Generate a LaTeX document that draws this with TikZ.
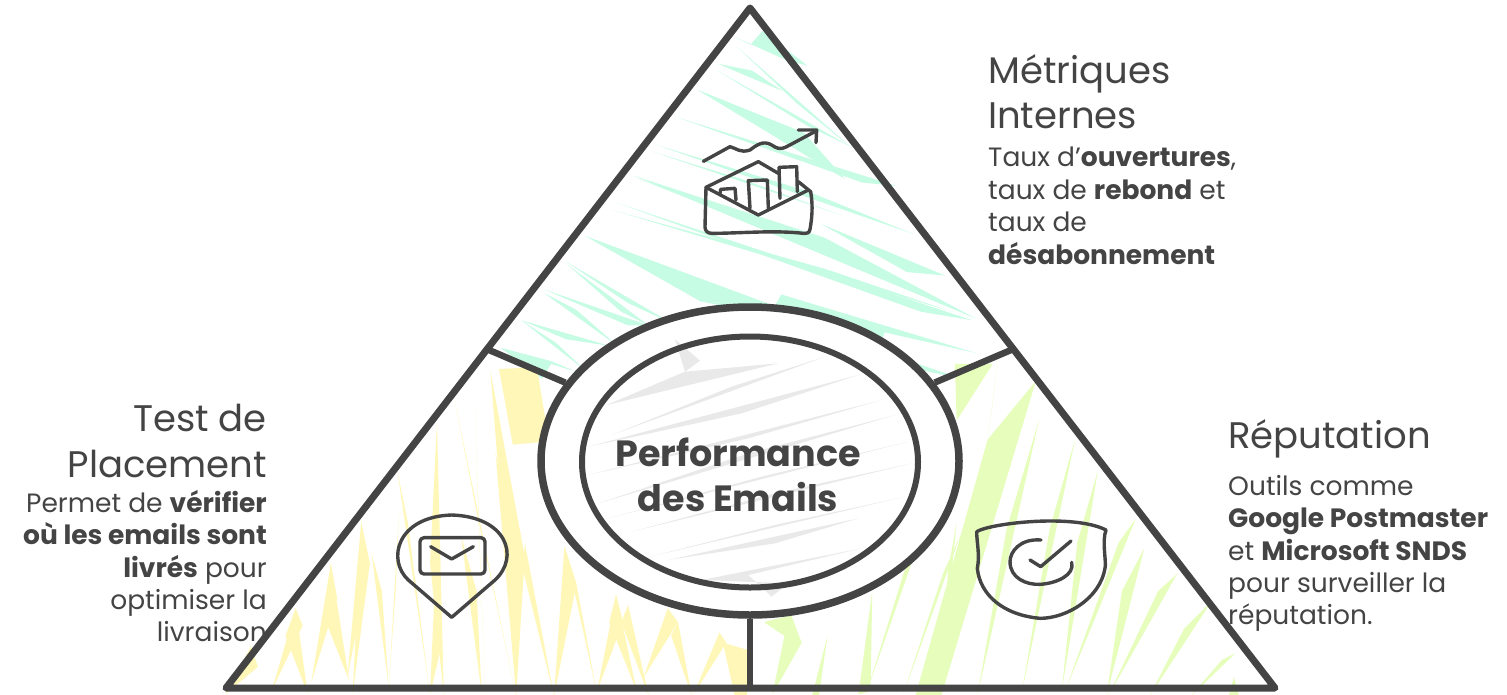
\documentclass[tikz,border=0pt]{standalone}
\usepackage{fontspec}
\setmainfont{Poppins}
\usetikzlibrary{shapes.geometric,calc}
\definecolor{ink}{HTML}{444444}
\definecolor{mintfill}{HTML}{C6FBE4}
\definecolor{lemonfill}{HTML}{FFF7B8}
\definecolor{limefill}{HTML}{E6FDBB}
\definecolor{greyfill}{HTML}{E9E9E9}
\tikzset{
  outline/.style={draw=ink,line width=7pt,line join=round,line cap=round},
  divider/.style={draw=ink,line width=6.5pt},
  iconline/.style={draw=ink,line width=3.4pt,line join=round,line cap=round},
  headtxt/.style={text=ink,inner sep=0pt,align=left,font=\fontsize{37}{45.5}\selectfont},
  bodytxt/.style={text=ink,inner sep=0pt,align=left,font=\fontsize{26.5}{32.4}\selectfont},
  hatchzone/.style={shift={(#1)},scale=0.3444}
}
\begin{document}
\begin{tikzpicture}[x=1pt,y=-1pt]
  \useasboundingbox (0,0) rectangle (1507,694);
  \coordinate (apex) at (750,8);
  \coordinate (leftfoot) at (226,688);
  \coordinate (rightfoot) at (1275,688);
  \coordinate (leftcut) at (489,350);
  \coordinate (rightcut) at (1011,350);
  \coordinate (basecut) at (750,688);

  \begin{scope}[hatchzone={480,0}]
    \fill[mintfill] (820,90) -- (785,130) -- (735,105) -- (890,175) -- (950,190) -- cycle;
    \fill[mintfill] (640,875) -- (855,890) -- (875,855) -- (1440,1025) -- (1175,965) -- (1145,1045) -- (1400,1100) -- (870,920) -- cycle;
    \foreach \ax/\ay/\bx/\by/\cx/\cy in {
      745/135/1080/430/920/300, 690/185/880/265/790/205, 690/205/1075/425/950/365,
      630/260/1060/520/940/385, 680/285/1020/490/860/375, 570/340/1210/540/1110/530,
      510/420/1260/680/950/555, 500/440/1050/625/760/520, 445/510/1440/925/1000/690,
      460/520/1130/760/800/650, 400/590/1430/930/1280/905, 385/610/1370/905/1000/780,
      305/685/860/890/640/875, 250/760/560/940/430/880, 250/765/490/945/410/905,
      185/840/490/945/430/945, 185/850/400/1005/280/900, 120/930/305/1075/220/995,
      120/930/380/1005/250/985, 990/650/1350/800/1240/790, 60/1010/280/1080/210/1050,
      60/1010/180/1100/210/1050}
      \fill[mintfill] (\ax,\ay) -- (\bx,\by) -- (\cx,\cy) -- cycle;
  \end{scope}

  \begin{scope}[hatchzone={220,350}]
    \fill[lemonfill] (810,55) -- (920,50) -- (955,265) -- (850,275) -- cycle;
    \fill[lemonfill] (1460,850) -- (1530,870) -- (1530,1005) -- (1495,1005) -- cycle;
    \foreach \ax/\ay/\bx/\by/\cx/\cy in {
      630/210/650/1005/610/620, 515/350/610/1000/545/500, 410/500/370/950/435/620,
      410/500/385/1000/435/620, 322/620/265/965/340/720, 322/620/375/960/300/770,
      220/750/150/990/240/800, 220/750/255/1000/190/830, 90/860/15/1000/110/920,
      680/140/860/1005/745/470, 740/170/770/1005/750/470, 785/60/860/1005/885/600,
      1000/570/970/1005/1035/680, 1000/570/1095/1000/1035/680, 885/560/970/1005/880/640,
      1150/710/1095/990/1170/790, 1150/710/1210/990/1130/790, 1185/740/1245/1005/1165/790,
      1330/790/1370/1005/1310/830, 1300/750/1230/950/1330/790, 1450/820/1375/1000/1470/850,
      440/590/490/980/470/700, 625/650/610/1000/645/850, 700/540/760/1000/745/700,
      800/300/860/1005/840/500, 520/470/490/980/510/700}
      \fill[lemonfill] (\ax,\ay) -- (\bx,\by) -- (\cx,\cy) -- cycle;
  \end{scope}

  \begin{scope}[hatchzone={750,350}]
    \fill[limefill] (830,90) -- (690,260) -- (480,1005) -- (555,1005) -- cycle;
    \fill[limefill] (595,40) -- (705,40) -- (600,205) -- cycle;
    \fill[limefill] (120,770) -- (40,790) -- (100,830) -- (65,1000) -- (150,850) -- cycle;
    \foreach \ax/\ay/\bx/\by/\cx/\cy in {
      840/200/660/1005/745/520, 945/255/790/990/870/520, 1010/350/905/990/950/560,
      1120/490/915/990/1070/560, 1145/575/1035/1005/1080/700, 1240/650/1040/1005/1185/700,
      1340/730/1160/1005/1260/810, 1410/880/1280/1005/1370/900, 1405/950/1390/1005/1420/1005,
      610/540/445/1000/560/650, 500/530/340/990/455/620, 355/700/315/1000/350/990,
      225/830/180/1005/200/1005, 720/30/690/260/705/150, 600/500/550/1000/575/640}
      \fill[limefill] (\ax,\ay) -- (\bx,\by) -- (\cx,\cy) -- cycle;
  \end{scope}

  \node[ellipse,draw=ink,line width=7.5pt,fill=white,inner sep=0pt,
    minimum width=418pt,minimum height=308pt] (ring) at (750,461) {};

  \begin{scope}[shift={(575,330)},scale=1/3]
    \fill[greyfill] (300,28) -- (375,92) -- (330,125) -- (610,100) -- (95,225) -- (330,125) -- cycle;
    \fill[greyfill] (860,655) -- (520,735) -- (590,800) -- (640,760) -- (380,750) -- cycle;
    \foreach \ax/\ay/\bx/\by/\cx/\cy in {
      750/80/110/315/470/170, 850/135/40/350/500/250, 920/210/40/435/520/325,
      960/255/70/520/520/370, 1000/335/100/565/560/440, 1010/400/170/605/600/490,
      990/500/225/680/600/585, 850/565/280/690/600/640}
      \fill[greyfill] (\ax,\ay) -- (\bx,\by) -- (\cx,\cy) -- cycle;
  \end{scope}

  \node[ellipse,draw=ink,line width=6pt,inner sep=0pt,
    minimum width=336pt,minimum height=251pt] (core) at (750,462) {};
  \node[align=center,text=ink,inner sep=0pt,font=\fontsize{36.5}{45}\selectfont\bfseries]
    (perftitle) at (738,475) {Performance\\des Emails};

  \draw[outline] (apex) -- (leftfoot) -- (rightfoot) -- cycle;
  \draw[divider] (leftcut) -- (ring.157);
  \draw[divider] (rightcut) -- (ring.23);
  \draw[divider] (ring.south) -- (basecut);

  \begin{scope}[shift={(680,110)},scale=1/3]
    \draw[iconline] (70,154) -- (150,110) .. controls (170,115) and (180,130) .. (210,120)
      .. controls (230,105) and (250,90) .. (275,105) .. controls (290,115) and (300,120) .. (320,110) -- (410,62);
    \draw[iconline] (355,60) -- (410,60) -- (408,98);
    \draw[iconline] (78,232) -- (235,155) -- (295,190);
    \draw[iconline] (355,215) -- (392,245) .. controls (400,290) and (395,330) .. (390,358)
      .. controls (388,370) and (380,370) .. (370,370) .. controls (280,360) and (180,370) .. (95,370)
      .. controls (80,370) and (75,360) .. (75,350) -- (78,232);
    \draw[iconline] (78,232) -- (235,315) -- (385,240);
    \draw[iconline] (120,250) -- (122,238) -- (165,235) -- (168,270);
    \draw[iconline] (210,295) -- (205,212) -- (262,210) -- (265,295);
    \draw[iconline] (300,265) -- (297,172) -- (350,170) -- (352,245);
  \end{scope}

  \begin{scope}[shift={(380,500)},scale=1/3]
    \draw[iconline] (215,352) -- (85,240) .. controls (20,180) and (50,50) .. (215,45)
      .. controls (380,50) and (420,170) .. (345,240) -- cycle;
    \draw[iconline,rounded corners=4pt] (120,113) rectangle (315,222);
    \draw[iconline] (152,140) -- (215,177) -- (280,140);
  \end{scope}

  \begin{scope}[shift={(960,505)},scale=1/3]
    \draw[iconline] (50,80) .. controls (90,55) and (340,25) .. (438,75) .. controls (425,110) and (440,170) .. (435,190)
      .. controls (420,280) and (320,340) .. (240,340) .. controls (130,330) and (60,270) .. (52,190)
      .. controls (60,150) and (50,110) .. cycle;
    \draw[iconline] (243,105) .. controls (180,100) and (150,140) .. (150,170)
      .. controls (150,220) and (200,240) .. (240,238) .. controls (290,235) and (345,210) .. (335,172);
    \draw[iconline] (210,165) -- (242,185) -- (333,108);
  \end{scope}

  \node[headtxt,anchor=north west] (metricshead) at (988,54) {Métriques\\Internes};
  \node[bodytxt,anchor=north west] (metricsbody) at (988,147) {Taux d'\textbf{ouvertures},\\taux de \textbf{rebond} et\\taux de\\\textbf{désabonnement}};
  \node[headtxt,anchor=north east,align=right] (placementhead) at (267,404) {Test de\\Placement};
  \node[bodytxt,anchor=north east,align=right] (placementbody) at (267,490) {Permet de \textbf{vérifier}\\\textbf{où les emails sont}\\\textbf{livrés} pour\\optimiser la\\livraison};
  \node[headtxt,anchor=north west] (repuhead) at (1228,419) {Réputation};
  \node[bodytxt,anchor=north west] (repubody) at (1228,475) {Outils comme\\\textbf{Google Postmaster}\\et \textbf{Microsoft SNDS}\\pour surveiller la\\réputation.};
\end{tikzpicture}
\end{document}
